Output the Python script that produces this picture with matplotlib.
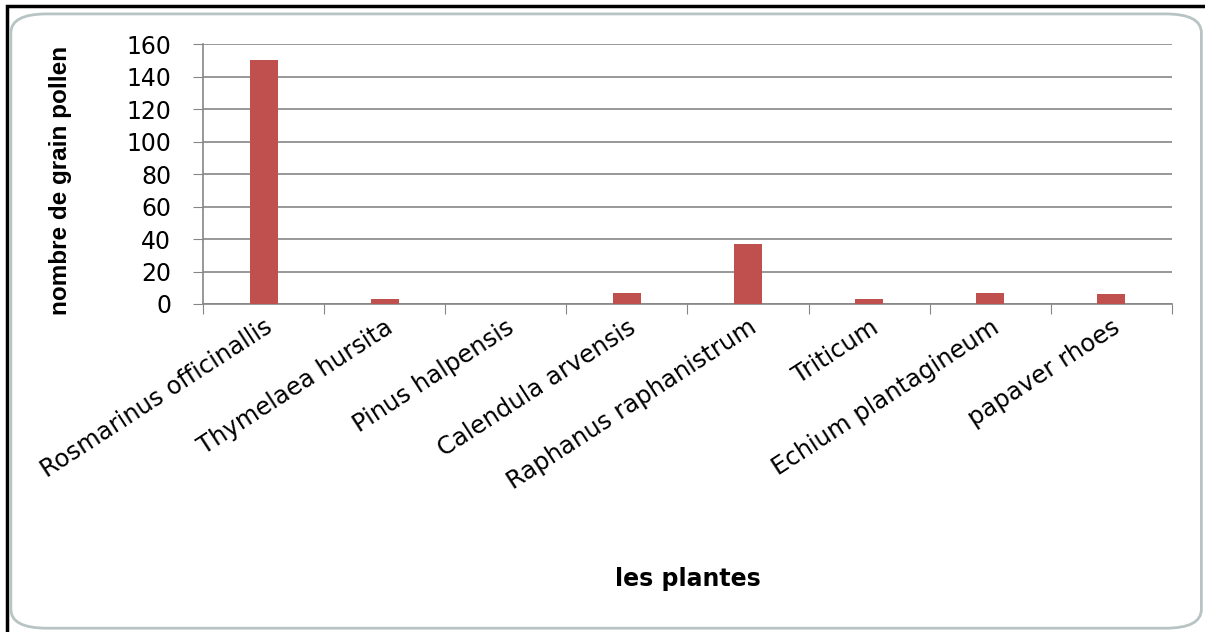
import matplotlib.pyplot as plt
from matplotlib.patches import FancyBboxPatch, Rectangle

plantes = ["Rosmarinus officinallis", "Thymelaea hursita", "Pinus halpensis",
           "Calendula arvensis", "Raphanus raphanistrum", "Triticum",
           "Echium plantagineum", "papaver rhoes"]
grains = [150, 3, 0, 7, 37, 3, 7, 6]
yticks = [0, 20, 40, 60, 80, 100, 120, 140, 160]

plt.rcParams['font.family'] = ['DejaVu Sans']

fig = plt.figure(figsize=(12.05, 6.32), dpi=100)

# outer frame (black edge top/left, light rounded chart border)
fig.patches.append(Rectangle((0.006, -0.01), 1.2, 1.0, transform=fig.transFigure,
                             fill=False, edgecolor="black", linewidth=2.5))
fig.patches.append(FancyBboxPatch((0.009, 0.006), 0.988, 0.972,
                                  boxstyle="round,pad=0,rounding_size=0.03",
                                  transform=fig.transFigure, fill=False,
                                  edgecolor="#b8c4c4", linewidth=2))

ax = fig.add_axes([0.1685, 0.519, 0.804, 0.411])
x = list(range(len(plantes)))
ax.bar(x, grains, width=0.23, color="#c0504d", zorder=3)

ax.set_xlim(-0.5, len(plantes) - 0.5)
ax.set_ylim(0, 160)
ax.set_yticks(yticks)
ax.tick_params(axis="y", labelsize=17, length=7, color="#868686", direction="out", pad=16)
ax.yaxis.grid(True, color="#868686", linewidth=1.2, zorder=0)

ax.set_xticks([i - 0.5 for i in range(len(plantes) + 1)])
ax.set_xticks(x, minor=True)
ax.set_xticklabels([])
ax.set_xticklabels(plantes, minor=True, rotation=33, ha="right",
                   rotation_mode="anchor", fontsize=17.5)
ax.tick_params(axis="x", which="major", length=7, color="#868686")
ax.tick_params(axis="x", which="minor", length=0, pad=8)

for s in ["top", "right"]:
    ax.spines[s].set_visible(False)
for s in ["left", "bottom"]:
    ax.spines[s].set_color("#868686")
    ax.spines[s].set_linewidth(1.2)

ax.set_ylabel("nombre de grain pollen", fontsize=17.5, fontweight="bold",
              family=["Liberation Sans", "DejaVu Sans"])
ax.yaxis.set_label_coords(-0.135, 0.477)
fig.text(0.571, 0.072, "les plantes", fontsize=17, fontweight="bold", ha="center")

fig.savefig("out.png", dpi=100)
